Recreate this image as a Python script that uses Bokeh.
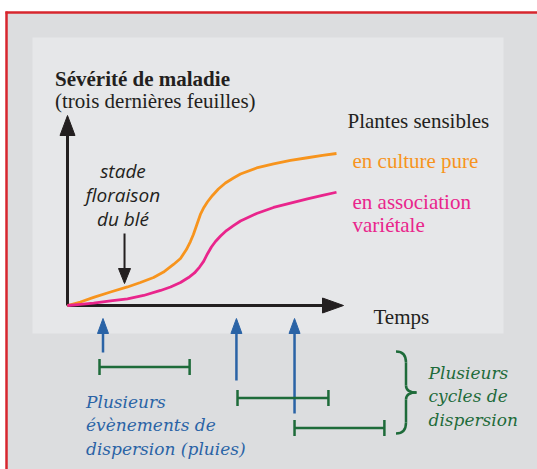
from bokeh.plotting import figure
from bokeh.models import Range1d, Label
from bokeh.embed import file_html
from bokeh.resources import INLINE

# ---------------- data ----------------
# time in arbitrary units (0 = origin, 100 = end of curves); severity 0..100
time_pure = [0, 4.8, 9.7, 16.0, 22.3, 27.1, 32.0, 35.7, 39.4, 42.0, 44.2, 45.7, 46.8, 48.1,
             49.4, 50.7, 52.0, 53.9, 56.1, 58.7, 61.7, 64.3, 70.3, 76.6, 82.9, 89.2, 94.8, 100]
sev_pure = [0, 2.3, 5.3, 8.9, 12.2, 15.1, 18.4, 22.0, 27.0, 30.9, 36.8, 42.1, 46.7, 53.3,
            59.9, 64.5, 68.1, 72.4, 76.6, 80.6, 83.9, 86.5, 90.5, 93.2, 95.4, 97.2, 98.7, 100]
time_assoc = [0, 4.8, 9.7, 16.0, 22.3, 28.3, 34.6, 38.3, 42.0, 45.0, 47.2, 49.1, 50.6, 52.0,
              53.5, 55.0, 56.9, 59.1, 61.7, 64.3, 70.3, 76.6, 82.9, 89.2, 94.8, 100]
sev_assoc = [0, 0.7, 1.5, 3.0, 4.4, 6.6, 9.9, 12.2, 15.1, 18.4, 21.4, 25.3, 29.0, 33.9,
             38.5, 42.1, 45.7, 49.3, 52.6, 55.6, 60.5, 64.5, 67.4, 70.2, 72.4, 74.5]
flowering_time = 21.2
event_times = [13.2, 62.8, 84.4]
cycle_start = [11.9, 63.2, 84.4]
cycle_end = [45.4, 97.0, 117.8]

title_bold = "Sévérité de maladie"
title_sub = "(trois dernières feuilles)"
legend_head = "Plantes sensibles"
label_pure = "en culture pure"
label_assoc = ["en association", "variétale"]
x_title = "Temps"
stage_lines = ["stade", "floraison", "du blé"]
events_lines = ["Plusieurs", "évènements de", "dispersion (pluies)"]
cycles_lines = ["Plusieurs", "cycles de", "dispersion"]

# ---------------- layout helpers (picture pixel -> data) ----------------
W, H = 537, 469
X0, SX = 67.0, 2.69   # picture x of t=0, px per time unit
Y0, SY = 305.0, 1.52  # picture y of severity 0, px per severity unit


def dx(px):
    return (px - X0) / SX


def dy(py):
    return (Y0 - py) / SY


def tx(t):
    return X0 + t * SX


BLACK = "#231f20"
ORANGE = "#f7941d"
PINK = "#e9258c"
BLUE = "#2a63a6"
GREEN = "#1e6b3a"
RED = "#d7262e"

p = figure(width=W, height=H, x_range=Range1d(dx(0), dx(W)),
           y_range=Range1d(dy(H), dy(0)), output_backend="svg",
           toolbar_location=None, x_axis_type=None, y_axis_type=None,
           min_border=0)
p.grid.visible = False
p.outline_line_color = None
p.background_fill_color = "white"
p.border_fill_color = "white"

# outer box and inner panel
p.quad(left=dx(6), right=dx(545), top=dy(12), bottom=dy(475),
       fill_color="#dcdddf", line_color=None)
p.line([dx(5), dx(545)], [dy(12), dy(12)], line_color=RED, line_width=2.5)
p.line([dx(6), dx(6)], [dy(11), dy(475)], line_color=RED, line_width=2.5)
p.quad(left=dx(32), right=dx(503), top=dy(37), bottom=dy(333),
       fill_color="#e6e7e9", line_color=None)


def head(px, py, direction, length, half):
    if direction == "up":
        return [dx(px - half), dx(px), dx(px + half)], [dy(py + length), dy(py), dy(py + length)]
    if direction == "down":
        return [dx(px - half), dx(px), dx(px + half)], [dy(py - length), dy(py), dy(py - length)]
    return [dx(px - length), dx(px), dx(px - length)], [dy(py - half), dy(py), dy(py + half)]


# axes
p.line([0, 0], [0, dy(130)], line_color=BLACK, line_width=3)
p.line([0, dx(325)], [0, 0], line_color=BLACK, line_width=3)
hx1, hy1 = head(X0, 115, "up", 20, 7.5)
hx2, hy2 = head(343, Y0, "right", 21, 7.5)
p.patches([hx1, hx2], [hy1, hy2], fill_color=BLACK, line_color=BLACK, line_width=1)

# curves
p.line(time_pure, sev_pure, line_color=ORANGE, line_width=2.8, line_join="round")
p.line(time_assoc, sev_assoc, line_color=PINK, line_width=2.8, line_join="round")

# flowering arrow
fx = tx(flowering_time)
p.line([flowering_time, flowering_time], [dy(233), dy(270)], line_color=BLACK, line_width=2)
hx3, hy3 = head(fx, 283, "down", 15, 6)
p.patch(hx3, hy3, fill_color=BLACK, line_color=BLACK, line_width=1)

# dispersion events (blue arrows)
arrow_bottoms = [352, 380, 413]
for t, b in zip(event_times, arrow_bottoms):
    p.line([t, t], [dy(b), dy(330)], line_color=BLUE, line_width=2.5)
    hx, hy = head(tx(t), 318, "up", 15, 5.5)
    p.patch(hx, hy, fill_color=BLUE, line_color=BLUE, line_width=1)

# cycles (green intervals)
cycle_levels = [366.5, 397.5, 427.5]
for s, e, lvl in zip(cycle_start, cycle_end, cycle_levels):
    p.line([s, e], [dy(lvl), dy(lvl)], line_color=GREEN, line_width=2.5)
    for xx in (s, e):
        p.line([xx, xx], [dy(lvl - 8), dy(lvl + 8)], line_color=GREEN, line_width=2.5)

# brace
bx0, bx1, btip = 395.5, 405.5, 416
p.bezier(x0=[dx(bx0), dx(bx1), dx(btip), dx(bx1)],
         y0=[dy(351), dy(385), dy(392), dy(422)],
         x1=[dx(bx1), dx(btip), dx(bx1), dx(bx0)],
         y1=[dy(362), dy(392), dy(399), dy(433)],
         cx0=[dx(402), dx(bx1), dx(410), dx(bx1)],
         cy0=[dy(351), dy(390), dy(392), dy(429)],
         cx1=[dx(bx1), dx(410), dx(bx1), dx(402)],
         cy1=[dy(355), dy(392), dy(394), dy(433)],
         line_color=GREEN, line_width=2.5)
p.line([dx(bx1), dx(bx1)], [dy(362), dy(385)], line_color=GREEN, line_width=2.5)
p.line([dx(bx1), dx(bx1)], [dy(399), dy(422)], line_color=GREEN, line_width=2.5)


def label(text, px, py, color=BLACK, font="Liberation Serif", size="21px",
          style="normal", align="left"):
    p.add_layout(Label(x=dx(px), y=dy(py), text=text, text_color=color,
                       text_font=font, text_font_size=size, text_font_style=style,
                       text_align=align, text_baseline="alphabetic"))


label(title_bold, 54.5, 78, style="bold")
label(title_sub, 54.5, 100)
label(legend_head, 347, 120)
label(label_pure, 352, 160, color=ORANGE)
label(label_assoc[0], 352, 201, color=PINK)
label(label_assoc[1], 352, 224.5, color=PINK)
label(x_title, 373, 316)
for i, s in enumerate(stage_lines):
    label(s, 122.5, 170 + i * 24, font="Open Sans", size="19px", style="italic", align="center")
for i, s in enumerate(events_lines):
    label(s, 85.5, 401 + i * 23.5, color=BLUE, font="DejaVu Serif", size="17px", style="italic")
for i, s in enumerate(cycles_lines):
    label(s, 428, 372 + i * 23.5, color=GREEN, font="DejaVu Serif", size="17px", style="italic")

open("out.html", "w").write(file_html(p, INLINE))
